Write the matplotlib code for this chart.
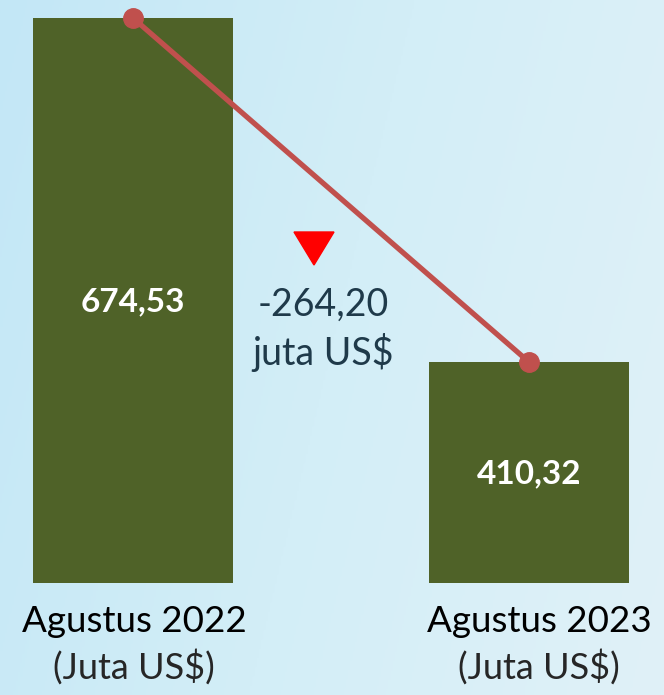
import matplotlib
matplotlib.use("Agg")
import matplotlib.pyplot as plt
import numpy as np
from matplotlib.colors import LinearSegmentedColormap

categories = ["Agustus 2022", "Agustus 2023"]
sublabels = ["(Juta US$)", "(Juta US$)"]
values = [674.53, 410.32]
value_labels = ["674,53", "410,32"]
change_label = "-264,20\njuta US$"

FONT = ["Lato", "DejaVu Sans"]

fig = plt.figure(figsize=(6.64, 6.95), dpi=100)

# background gradient
bg = fig.add_axes([0, 0, 1, 1])
cmap = LinearSegmentedColormap.from_list("bg", ["#c3e7f6", "#d3eef7", "#e0f1f8"])
xx, yy = np.meshgrid(np.linspace(0, 1, 300), np.linspace(0, 1, 300))
grad = 0.8 * xx + 0.2 * (1 - yy)
bg.imshow(grad, cmap=cmap, aspect="auto", extent=[0, 1, 0, 1], origin="lower")
bg.axis("off")

H = 695.0
W = 664.0
bottom_px = 583
ax = fig.add_axes([0, (H - bottom_px) / H, 1, bottom_px / H])
ax.patch.set_alpha(0)
x = np.arange(len(values))
ax.bar(x, values, width=0.505, color="#4f6228", zorder=2)
ax.plot(x, values, color="#c0504d", lw=3.8, marker="o", markersize=14, zorder=3)
ax.set_ylim(240.6, 688.4)
ax.set_xlim(-0.336, 1.341)
ax.axis("off")

value_y = [302, 474]
for xi, lbl, py in zip(x, value_labels, value_y):
    yd = ax.transData.inverted().transform((0, H - py))[1]
    ax.text(xi, yd, lbl, ha="center", va="center", color="white",
            fontsize=24, fontweight="bold", family=FONT, zorder=4)

# triangle & change label
fig.patches.append(plt.Polygon([[294 / W, 1 - 232 / H], [334 / W, 1 - 232 / H], [314 / W, 1 - 265 / H]],
                               closed=True, color="#ff0000", transform=fig.transFigure, figure=fig))
fig.text(323 / W, 1 - 329 / H, change_label, ha="center", va="center", color="#1f3a4a",
         fontsize=27, family=FONT, linespacing=1.32)

centers = [134, 539]
for c, cat, sub in zip(centers, categories, sublabels):
    fig.text(c / W, 1 - 622 / H, cat, ha="center", va="center", color="black",
             fontsize=26.5, family=FONT)
    fig.text(c / W, 1 - 667 / H, sub, ha="center", va="center", color="#262626",
             fontsize=26, family=FONT)

fig.savefig("out.png", dpi=100)
